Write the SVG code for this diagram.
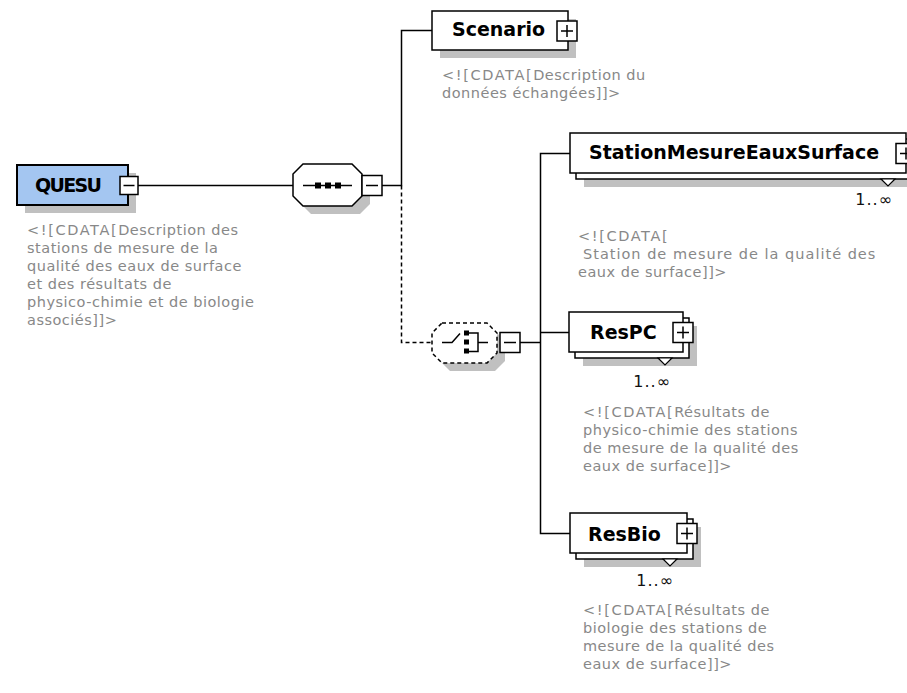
<svg xmlns="http://www.w3.org/2000/svg" width="907" height="693" viewBox="0 0 907 693">
<style>
.box{fill:#fff;stroke:#000;stroke-width:1.5}
.root{fill:#a4c6f1;stroke:#000;stroke-width:2}
.sh{fill:#c0c0c0;stroke:none}
.conn{fill:none;stroke:#000;stroke-width:1.5}
.dash{stroke-dasharray:4 3}
.lbl{font-family:"DejaVu Sans","Liberation Sans",sans-serif;font-weight:bold;font-size:19px;fill:#000}
.desc{font-family:"DejaVu Sans","Liberation Sans",sans-serif;font-size:14.5px;fill:#888;letter-spacing:0.5px}
.cd{letter-spacing:1.6px}
.occ{font-family:"DejaVu Sans","Liberation Sans",sans-serif;font-size:16px;fill:#111;text-anchor:end;letter-spacing:1px}
.sq{fill:#000}
</style>
<defs>
<g id="plus"><rect class="box" x="0" y="0" width="20" height="20"/><path class="conn" d="M4 10H16M10 4V16"/></g>
<g id="minus"><rect class="box" x="0" y="0" width="20" height="20"/><path class="conn" d="M4 10H16"/></g>
<path id="vmark" d="M-7 0L0 7L7 0Z" fill="#fff" stroke="#000" stroke-width="1.2"/>
</defs>

<g id="connectors">
<path class="conn" d="M137 185.5H293"/>
<path class="conn" d="M382 185.5H401.5V30.5H432"/>
<path class="conn dash" d="M401.5 185.5V342.5H432"/>
<path class="conn" d="M520 342.5H540.5"/>
<path class="conn" d="M570 153.5H540.5V533.5H570"/>
<path class="conn" d="M540.5 332.5H569"/>
</g>

<g id="QUESU">
<rect class="sh" x="25" y="173" width="111" height="40"/>
<rect class="root" x="17" y="165" width="111" height="40"/>
<text class="lbl" x="35" y="192" font-size="18" textLength="67" lengthAdjust="spacing">QUESU</text>
<rect class="box" x="120" y="176.5" width="18" height="18"/>
<path class="conn" d="M123.5 185.5H134.5"/>
<text class="desc"><tspan x="27" y="235"><tspan class="cd">&lt;![CDATA[</tspan>Description des</tspan><tspan x="27" y="253">stations de mesure de la</tspan><tspan x="27" y="271">qualité des eaux de surface</tspan><tspan x="27" y="289">et des résultats de</tspan><tspan x="27" y="307">physico-chimie et de biologie</tspan><tspan x="27" y="325">associés]]&gt;</tspan></text>
</g>

<g id="sequence">
<polygon class="sh" points="311,172 360,172 370,182 370,204 360,214 311,214 301,204 301,182"/>
<polygon class="box" points="303,164 352,164 362,174 362,196 352,206 303,206 293,196 293,174"/>
<path class="conn" d="M303 185.5H352"/>
<rect class="sq" x="315" y="182.5" width="6" height="6"/>
<rect class="sq" x="325" y="182.5" width="6" height="6"/>
<rect class="sq" x="335" y="182.5" width="6" height="6"/>
<use href="#minus" x="362" y="175.5"/>
</g>

<g id="Scenario">
<rect class="sh" x="440" y="19" width="136" height="39"/>
<rect class="box" x="432" y="11" width="136" height="39"/>
<text class="lbl" x="452" y="36">Scenario</text>
<use href="#plus" x="557" y="21"/>
<text class="desc"><tspan x="442" y="80"><tspan class="cd">&lt;![CDATA[</tspan>Description du</tspan><tspan x="442" y="98">données échangées]]&gt;</tspan></text>
</g>

<g id="choice">
<polygon class="sh" points="450,331 495,331 505,341 505,361 495,371 450,371 440,361 440,341"/>
<polygon class="box dash" points="442,323 487,323 497,333 497,353 487,363 442,363 432,353 432,333"/>
<path class="conn" d="M442 342.5H452L460 333.5"/>
<rect class="sq" x="464" y="330.5" width="5" height="5"/>
<rect class="sq" x="464" y="339.5" width="5" height="5"/>
<rect class="sq" x="464" y="348.5" width="5" height="5"/>
<path class="conn" d="M469 333H478V351.5H469M478 342.5H488"/>
<use href="#minus" x="500" y="332.5"/>
</g>

<g id="StationMesureEauxSurface">
<rect class="sh" x="584" y="147" width="336" height="40"/>
<rect class="box" x="576" y="139" width="336" height="40"/>
<rect class="box" x="570" y="133" width="336" height="40"/>
<text class="lbl" x="589" y="159">StationMesureEauxSurface</text>
<use href="#plus" x="896" y="143.5"/>
<use href="#vmark" x="888" y="179"/>
<text class="occ" x="893" y="205">1..∞</text>
<text class="desc"><tspan x="578" y="241" class="cd">&lt;![CDATA[</tspan><tspan x="583" y="259" letter-spacing="1px">Station de mesure de la qualité des</tspan><tspan x="578" y="277">eaux de surface]]&gt;</tspan></text>
</g>

<g id="ResPC">
<rect class="sh" x="583" y="326" width="114" height="40"/>
<rect class="box" x="575" y="318" width="114" height="40"/>
<rect class="box" x="569" y="312" width="114" height="40"/>
<text class="lbl" x="590" y="339">ResPC</text>
<use href="#plus" x="673" y="322.5"/>
<use href="#vmark" x="665" y="358"/>
<text class="occ" x="671" y="387">1..∞</text>
<text class="desc"><tspan x="583" y="417"><tspan class="cd">&lt;![CDATA[</tspan>Résultats de</tspan><tspan x="583" y="435">physico-chimie des stations</tspan><tspan x="583" y="453">de mesure de la qualité des</tspan><tspan x="583" y="471">eaux de surface]]&gt;</tspan></text>
</g>

<g id="ResBio">
<rect class="sh" x="584" y="527" width="117" height="40"/>
<rect class="box" x="576" y="519" width="117" height="40"/>
<rect class="box" x="570" y="513" width="117" height="40"/>
<text class="lbl" x="588" y="541">ResBio</text>
<use href="#plus" x="677" y="523.5"/>
<use href="#vmark" x="670" y="559"/>
<text class="occ" x="674" y="586">1..∞</text>
<text class="desc"><tspan x="583" y="615"><tspan class="cd">&lt;![CDATA[</tspan>Résultats de</tspan><tspan x="583" y="633">biologie des stations de</tspan><tspan x="583" y="651">mesure de la qualité des</tspan><tspan x="583" y="669">eaux de surface]]&gt;</tspan></text>
</g>
</svg>
